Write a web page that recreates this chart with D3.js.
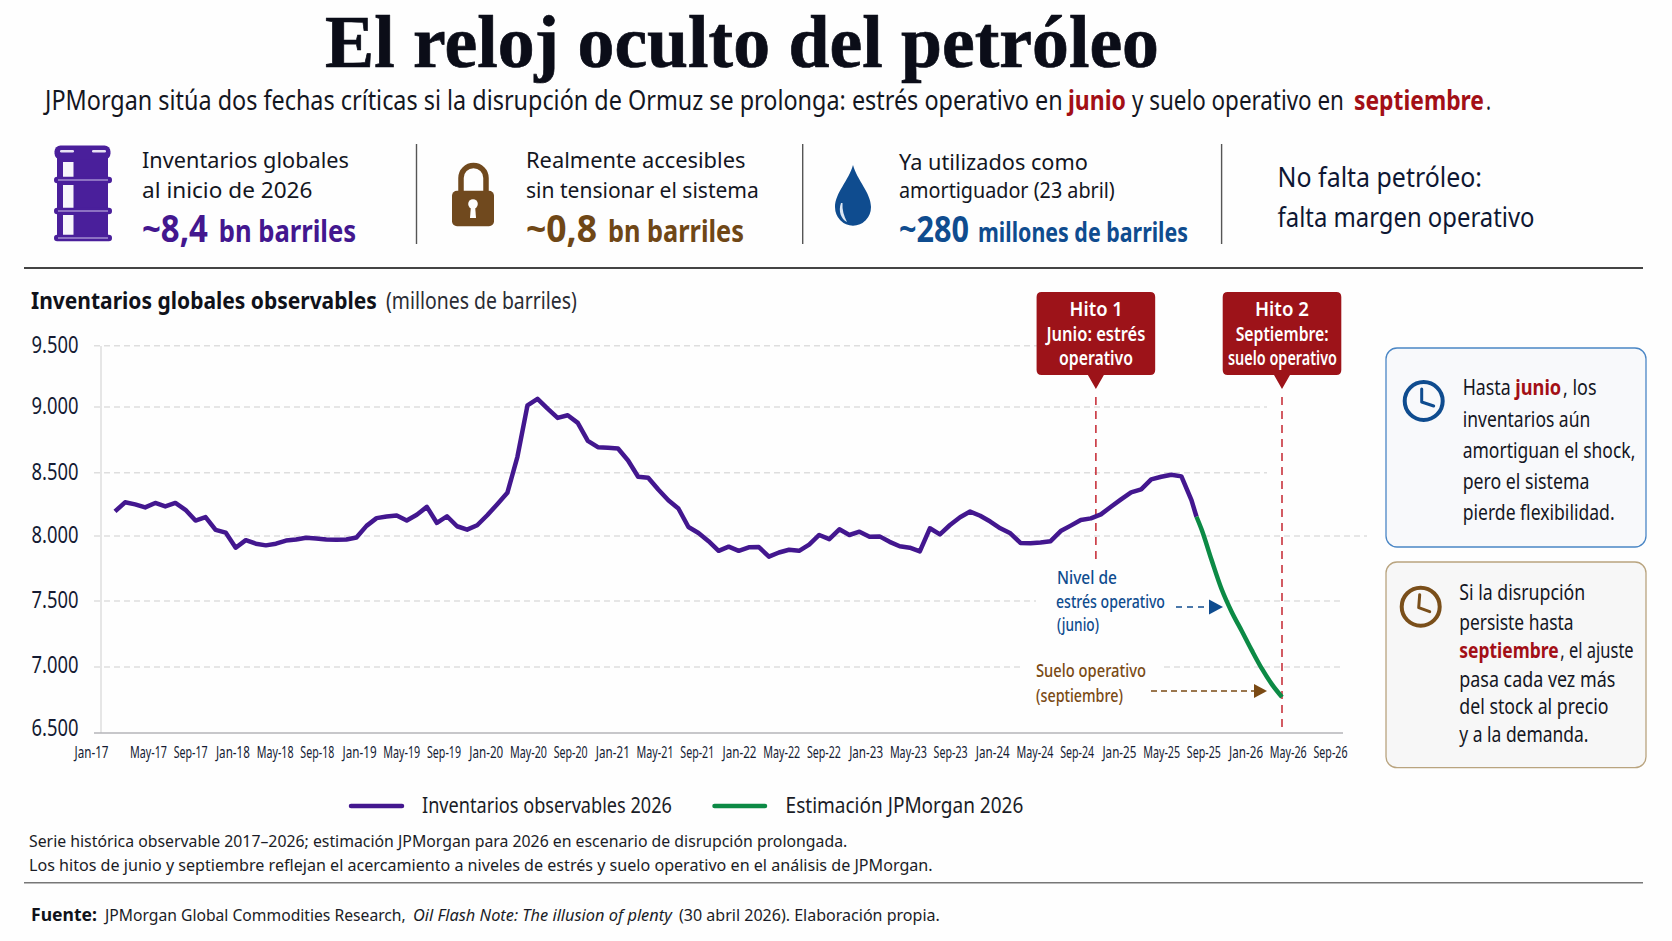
<!DOCTYPE html>
<html lang="es">
<head>
<meta charset="utf-8">
<title>El reloj oculto del petróleo</title>
<script src="https://cdn.jsdelivr.net/npm/d3@7/dist/d3.min.js"></script>
<style>
html,body{margin:0;padding:0;background:#fefefe;}
svg{display:block;}
text{font-family:"Noto Sans",sans-serif;}
</style>
</head>
<body>
<svg id="c" width="1672" height="941"></svg>
<script>
// ---------- datos ----------
const tickLabels = ["Jan-17","May-17","Sep-17","Jan-18","May-18","Sep-18","Jan-19","May-19","Sep-19","Jan-20","May-20","Sep-20","Jan-21","May-21","Sep-21","Jan-22","May-22","Sep-22","Jan-23","May-23","Sep-23","Jan-24","May-24","Sep-24","Jan-25","May-25","Sep-25","Jan-26","May-26","Sep-26"];
const yTicks = [6500,7000,7500,8000,8500,9000,9500];
const inventarios = [8194,8266,8250,8226,8261,8234,8261,8207,8122,8149,8048,8027,7910,7968,7941,7928,7941,7965,7973,7987,7981,7973,7971,7973,7989,8080,8141,8154,8162,8122,8168,8230,8103,8156,8077,8050,8085,8164,8251,8341,8621,9013,9066,8987,8917,8937,8879,8742,8694,8689,8684,8593,8468,8460,8367,8283,8217,8071,8024,7960,7886,7918,7886,7913,7915,7841,7873,7894,7886,7934,8008,7976,8053,8008,8034,7995,7997,7955,7921,7910,7881,8061,8013,8087,8148,8193,8160,8114,8061,8021,7947,7944,7950,7960,8039,8082,8126,8139,8171,8231,8289,8344,8368,8447,8468,8484,8471,8284];
const mesCorte = 107.5, valorCorte = 8152;
const mesesEstimacion = [108,109,110,111,112,113,114,115,116];
const estimacion = [8053,7815,7590,7417,7273,7126,6987,6868,6772];
const serieNombres = ["Inventarios observables 2026","Estimación JPMorgan 2026"];
const hitos = [
  {mes:97.5, l:["Hito 1","Junio: estrés","operativo"]},
  {mes:116,  l:["Hito 2","Septiembre:","suelo operativo"]}
];

// ---------- colores ----------
const PURPLE="#43178f", GREEN="#0c8a45", RED="#a30f16", BOXRED="#9d1319", BROWN="#6f4716", BLUE="#0f4c8f", INK="#14161f";

const svg=d3.select("#c");
const root=svg.append("g");
root.append("rect").attr("width",1672).attr("height",941).attr("fill","#fefefe");

function t(x,y,s,size,fill,w,o={}){
  const e=root.append("text").attr("font-size",size).attr("fill",fill).text(s);
  if(o.weight)e.attr("font-weight",o.weight);
  if(o.style)e.attr("font-style",o.style);
  if(o.family)e.style("font-family",o.family);
  if(o.anchor)e.attr("text-anchor",o.anchor);
  const sx=w?w/e.node().getComputedTextLength():1;
  e.attr("transform",`translate(${x},${y}) scale(${sx},1)`);
  return e;
}

// ---------- cabecera ----------
t(325,67,"El reloj oculto del petróleo",74,"#0b0d18",834,{weight:700,family:'"Liberation Serif",serif'}).attr("stroke","#0b0d18").attr("stroke-width",0.7);
t(45,110,"JPMorgan sitúa dos fechas críticas si la disrupción de Ormuz se prolonga: estrés operativo en",27,INK,1018);
t(1068,110,"junio",27,RED,58,{weight:700});
t(1132,110,"y suelo operativo en",27,INK,212);
t(1354,110,"septiembre",27,RED,130,{weight:700});
t(1486,110,".",27,INK,5);

// ---------- KPIs ----------
[416.5,802.7,1221.6].forEach(x=>root.append("line").attr("x1",x).attr("x2",x).attr("y1",144).attr("y2",244).attr("stroke","#555").attr("stroke-width",1.4));

t(142,168,"Inventarios globales",22.5,INK,207);
t(142,198,"al inicio de 2026",22.5,INK,170.5);
t(142,242,"~8,4",38,PURPLE,66,{weight:700});
t(218.7,242,"bn barriles",30,PURPLE,137.5,{weight:700});

t(526,168,"Realmente accesibles",22.5,INK,219.6);
t(526,198,"sin tensionar el sistema",22.5,INK,233);
t(526,242,"~0,8",38,BROWN,71,{weight:700});
t(608,242,"bn barriles",30,BROWN,136,{weight:700});

t(899,170,"Ya utilizados como",22.5,INK,189);
t(899,198,"amortiguador (23 abril)",22.5,INK,216);
t(899,242,"~280",35,BLUE,70,{weight:700});
t(978,242,"millones de barriles",27,BLUE,210,{weight:700});

t(1277.6,186.5,"No falta petróleo:",28,"#0e1733",204.4);
t(1277.6,227,"falta margen operativo",28,"#0e1733",257);

// barril
const b=root.append("g");
b.append("rect").attr("x",57).attr("y",150).attr("width",51).attr("height",90).attr("fill","#4a1f9b");
b.append("rect").attr("x",54.5).attr("y",145.5).attr("width",56).attr("height",14).attr("rx",6).attr("fill","#4a1f9b");
[60,92].forEach(px=>b.append("rect").attr("x",px).attr("y",150).attr("width",14).attr("height",2.6).attr("rx",1.3).attr("fill","#e8e2f5"));
[[162,16],[185,23],[215,20]].forEach(a=>b.append("rect").attr("x",63).attr("y",a[0]).attr("width",10.5).attr("height",a[1]).attr("fill","#f7f5fb"));
[180,211,238].forEach(yy=>{
  b.append("rect").attr("x",54).attr("y",yy-3.2).attr("width",58).attr("height",6.4).attr("rx",3.2).attr("fill","#4a1f9b");
  b.append("line").attr("x1",58).attr("x2",108).attr("y1",yy).attr("y2",yy).attr("stroke","#cfc4ea").attr("stroke-width",1);
});

// candado
const k=root.append("g");
k.append("path").attr("d","M461 193V178a12.5 12.5 0 0 1 25 0V193").attr("fill","none").attr("stroke","#70491e").attr("stroke-width",5.5);
k.append("rect").attr("x",452).attr("y",190.7).attr("width",42).attr("height",35.5).attr("rx",5).attr("fill","#70491e");
k.append("circle").attr("cx",473).attr("cy",204).attr("r",4.8).attr("fill","#fff");
k.append("path").attr("d","M471 205h4l1 13h-6z").attr("fill","#fff");

// gota
root.append("path").attr("d","M853 165C849 180 835 193 835 207a18 18.7 0 0 0 36 0C871 193 857 180 853 165Z").attr("fill","#0f4c8f");
root.append("path").attr("d","M841 203C838 211 841 219 847 222C844 216 842 210 842.5 203Z").attr("fill","#dbe6f3");

root.append("line").attr("x1",24).attr("x2",1643).attr("y1",268).attr("y2",268).attr("stroke","#444").attr("stroke-width",2);

// ---------- título del gráfico ----------
t(31,309,"Inventarios globales observables",23,"#10121a",346,{weight:700});
t(386,309,"(millones de barriles)",23,"#2a2c34",191);

// ---------- escalas ----------
const x=d3.scaleLinear().domain([0,116]).range([115,1282]);
const y=d3.scaleLinear().domain(yTicks).range([733,667,601,536,472.7,407,345.7]);
const tickX=d3.scaleLinear().domain([0,4,116]).range([91,148,1330]);
const fmt=d3.formatLocale({decimal:",",thousands:".",grouping:[3],currency:["","€"]}).format(",");

// rejilla
const gridEnd={9500:1037,9000:1267,8500:1267,8000:1367,7500:1343,7000:1343};
root.append("g").selectAll("line").data(yTicks.filter(v=>v>6500)).join("line")
  .attr("x1",94).attr("x2",d=>gridEnd[d]).attr("y1",d=>y(d)).attr("y2",d=>y(d))
  .attr("stroke","#dedede").attr("stroke-width",1.4).attr("stroke-dasharray","6 4");

// fondos blancos de anotaciones
root.append("rect").attr("x",1036).attr("y",590).attr("width",186).attr("height",22).attr("fill","#fefefe");
root.append("rect").attr("x",1020).attr("y",658).attr("width",141).attr("height",20).attr("fill","#fefefe");

// ejes
root.append("line").attr("x1",101).attr("x2",101).attr("y1",346).attr("y2",733).attr("stroke","#d6d6d6").attr("stroke-width",1.2);
const yAxis=root.append("g").attr("transform","translate(101,0)")
  .call(d3.axisLeft(y).tickValues(yTicks).tickSize(0).tickFormat(fmt));
yAxis.select(".domain").remove();
yAxis.selectAll("text").attr("font-size",23).attr("fill","#141b33").style("font-family",'"Noto Sans",sans-serif')
  .attr("x",null).attr("dy",null)
  .attr("transform",function(d){
    const off=d===6500?2.7:d===7000?5:6.7;
    return `translate(-22.5,${off}) scale(${47/this.getComputedTextLength()},1)`;
  });

const xAxis=root.append("g").attr("transform","translate(0,733)")
  .call(d3.axisBottom(tickX).tickValues(d3.range(0,117,4)).tickSize(0).tickFormat((d,i)=>tickLabels[i]));
xAxis.select(".domain").remove();
const wTick={Jan:34,May:37,Sep:34};
xAxis.selectAll("text").attr("font-size",16).attr("fill","#141b33").attr("y",null).attr("dy",null)
  .style("font-family",'"Noto Sans",sans-serif')
  .attr("transform",function(){
    const w=wTick[d3.select(this).text().slice(0,3)];
    return `translate(0,25) scale(${w/this.getComputedTextLength()},1)`;
  });
root.append("line").attr("x1",94).attr("x2",1343).attr("y1",733).attr("y2",733).attr("stroke","#b4b4b8").attr("stroke-width",1.6);

// líneas de hitos
const hitoFin=[562,733];
hitos.forEach((h,i)=>root.append("line").attr("x1",x(h.mes)).attr("x2",x(h.mes)).attr("y1",397).attr("y2",hitoFin[i])
  .attr("stroke","#c8323c").attr("stroke-width",1.6).attr("stroke-dasharray","8 6"));

// series
const linea=d3.line().x(d=>x(d[0])).y(d=>y(d[1]));
root.append("path").attr("fill","none").attr("stroke",PURPLE).attr("stroke-width",4.5).attr("stroke-linejoin","round").attr("stroke-linecap","butt")
  .attr("d",linea(inventarios.map((v,i)=>[i,v]).concat([[mesCorte,valorCorte]])));
root.append("path").attr("fill","none").attr("stroke",GREEN).attr("stroke-width",4.5).attr("stroke-linejoin","round").attr("stroke-linecap","butt")
  .attr("d",linea.curve(d3.curveMonotoneX)([[mesCorte,valorCorte]].concat(estimacion.map((v,i)=>[mesesEstimacion[i],v]))));

// cajas de hito
hitos.forEach(h=>{
  const m=x(h.mes), a=m-59.3, c=m+59.3;
  root.append("path").attr("fill",BOXRED)
    .attr("d",`M${a+5} 292H${c-5}Q${c} 292 ${c} 297V370Q${c} 375 ${c-5} 375H${m+8}L${m} 389L${m-8} 375H${a+5}Q${a} 375 ${a} 370V297Q${a} 292 ${a+5} 292Z`);
});
t(1069.6,316,hitos[0].l[0],20,"#fff",53.2,{weight:600});
t(1046.4,341,hitos[0].l[1],19,"#fff",99,{weight:600});
t(1059,365,hitos[0].l[2],19,"#fff",74,{weight:600});
t(1255,316,hitos[1].l[0],20,"#fff",54,{weight:600});
t(1235.7,341,hitos[1].l[1],19,"#fff",93,{weight:600});
t(1228,365,hitos[1].l[2],19,"#fff",109,{weight:600});

// anotaciones
t(1057,584,"Nivel de",18,BLUE,60,{weight:500});
t(1056,608,"estrés operativo",18,BLUE,109,{weight:500});
t(1057,631,"(junio)",18,BLUE,42,{weight:500});
root.append("line").attr("x1",1176).attr("x2",1211).attr("y1",607).attr("y2",607).attr("stroke",BLUE).attr("stroke-width",1.6).attr("stroke-dasharray","6 5");
root.append("path").attr("d","M1209 599.5L1223 607L1209 614.5Z").attr("fill",BLUE);

t(1036,677,"Suelo operativo",18,"#7a4a14",110,{weight:500});
t(1036,702,"(septiembre)",18,"#7a4a14",87,{weight:500});
root.append("line").attr("x1",1151).attr("x2",1256).attr("y1",691).attr("y2",691).attr("stroke","#7a4a14").attr("stroke-width",1.6).attr("stroke-dasharray","6 4");
root.append("path").attr("d","M1254 684L1267 691L1254 698Z").attr("fill","#7a4a14");

// leyenda
root.append("line").attr("x1",351).attr("x2",402).attr("y1",806).attr("y2",806).attr("stroke",PURPLE).attr("stroke-width",4.5).attr("stroke-linecap","round");
t(422,813,serieNombres[0],21,"#1a1c26",250);
root.append("line").attr("x1",714.5).attr("x2",765).attr("y1",806).attr("y2",806).attr("stroke",GREEN).attr("stroke-width",4.5).attr("stroke-linecap","round");
t(785.6,813,serieNombres[1],21,"#1a1c26",238);

// notas
t(29,847,"Serie histórica observable 2017–2026; estimación JPMorgan para 2026 en escenario de disrupción prolongada.",16.5,"#1a1c26",819);
t(29,870.5,"Los hitos de junio y septiembre reflejan el acercamiento a niveles de estrés y suelo operativo en el análisis de JPMorgan.",16.5,"#1a1c26",904);
root.append("line").attr("x1",24).attr("x2",1643).attr("y1",882.7).attr("y2",882.7).attr("stroke","#777").attr("stroke-width",1.5);
t(31,921,"Fuente:",17,"#10121a",66,{weight:700});
t(105,921,"JPMorgan Global Commodities Research,",17,"#1a1c26",301);
t(413,921,"Oil Flash Note: The illusion of plenty",17,"#1a1c26",259,{style:"italic"});
t(679,921,"(30 abril 2026). Elaboración propia.",17,"#1a1c26",261);

// ---------- cuadros laterales ----------
function clock(cx,cy,c,h1,h2){
  root.append("circle").attr("cx",cx).attr("cy",cy).attr("r",19).attr("fill","none").attr("stroke",c).attr("stroke-width",4);
  root.append("path").attr("d",`M${cx+h1[0]} ${cy+h1[1]}L${cx-2} ${cy+1}L${cx+h2[0]} ${cy+h2[1]}`).attr("fill","none").attr("stroke",c).attr("stroke-width",3).attr("stroke-linecap","round").attr("stroke-linejoin","round");
}
root.append("rect").attr("x",1386).attr("y",348).attr("width",260).attr("height",199).attr("rx",11).attr("fill","#f8f9fb").attr("stroke","#4a86c5").attr("stroke-width",1.3);
clock(1423.7,401,"#0f4c8f",[-2,-12],[10,5]);
t(1462.7,395,"Hasta",21.5,INK,48);
t(1515.3,395,"junio",21.5,RED,46,{weight:700});
t(1563,395,", los",21.5,INK,33.5);
t(1462.7,426.7,"inventarios aún",21.5,INK,127.7);
t(1462.7,457.7,"amortiguan el shock,",21.5,INK,172.7);
t(1462.7,489,"pero el sistema",21.5,INK,126.7);
t(1462.7,520,"pierde flexibilidad.",21.5,INK,152);

root.append("rect").attr("x",1386).attr("y",562).attr("width",260).attr("height",205.7).attr("rx",11).attr("fill","#f7f7f7").attr("stroke","#b9a47f").attr("stroke-width",1.3);
clock(1420.7,606.7,"#7a4f1a",[-1,-12],[9,5]);
t(1459.3,600,"Si la disrupción",21,INK,126);
t(1459.3,630,"persiste hasta",21,INK,114.3);
t(1459.3,658,"septiembre",21,RED,99.3,{weight:700});
t(1560.3,658,", el ajuste",21,INK,73.4);
t(1459.3,686.7,"pasa cada vez más",21,INK,156);
t(1459.3,714,"del stock al precio",21,INK,149.3);
t(1459.3,742,"y a la demanda.",21,INK,129.3);
</script>
</body>
</html>
